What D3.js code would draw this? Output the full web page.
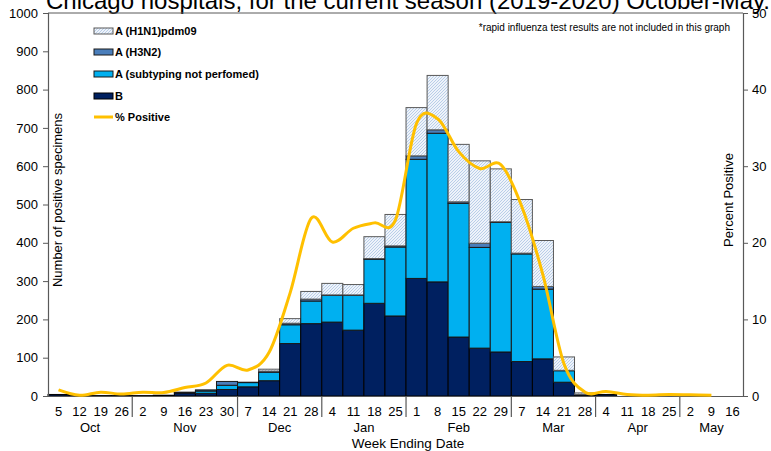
<!DOCTYPE html>
<html><head><meta charset="utf-8">
<script src="https://cdn.jsdelivr.net/npm/d3@7"></script>
<style>
html,body{margin:0;padding:0;background:#fff;}
svg{display:block;font-family:"Liberation Sans",Arial,sans-serif;}
</style></head>
<body><svg id="c" width="771" height="451"></svg>
<script>
const weekLabels = ["5","12","19","26","2","9","16","23","30","7","14","21","28","4","11","18","25","1","8","15","22","29","7","14","21","28","4","11","18","25","2","9","16"];
const monthNames = ["Oct","Nov","Dec","Jan","Feb","Mar","Apr","May"];
const monthStart = [0,4,9,13,17,22,26,30];
const monthEnd   = [4,9,13,17,22,26,30,33];
const valB      = [4,1,1,1,1,2,8,7,17,24,40,137,189,193,172,242,209,307,298,154,125,115,90,97,36,3,4,0,0,0,0,0,0];
const valAUnsub = [0,0,0,0,0,0,1,6,11,11,22,49,59,70,91,115,180,311,388,349,263,338,281,182,30,1,0,0,0,0,0,0,0];
const valH3N2   = [0,0,0,0,0,0,1,3,10,1,3,4,5,1,1,2,3,9,9,4,11,2,2,7,1,0,0,0,0,0,0,0,0];
const valH1N1   = [0,0,0,0,0,0,0,0,0,0,5,12,20,30,27,57,82,126,142,150,215,138,140,120,35,4,0,0,0,0,0,0,0];
const pctPos    = [0.8,0.1,0.5,0.25,0.5,0.45,1.1,1.7,4.0,3.4,5.7,13.5,23.2,20.1,21.9,22.6,23.0,35.6,36.2,31.9,29.7,30.2,24.7,15.8,4.2,0.5,0.6,0.2,0.1,0.2,0.15,0.1,null];
const leftTicks = [0,100,200,300,400,500,600,700,800,900,1000];
const rightTicks = [0,10,20,30,40,50];
const seriesNames = ["A (H1N1)pdm09","A (H3N2)","A (subtyping not perfomed)","B"];

const svg = d3.select("#c");
const L = 48, R = 743, T = 13, B = 396;
const x = d3.scaleBand().domain(d3.range(weekLabels.length)).range([L, R]).padding(0);
const yL = d3.scaleLinear().domain([0,1000]).range([B, T]);
const yR = d3.scaleLinear().domain([0,50]).range([B, T]);

const defs = svg.append("defs");
const pat = defs.append("pattern").attr("id","hatch").attr("patternUnits","userSpaceOnUse")
  .attr("width",3).attr("height",3);
pat.append("rect").attr("width",3).attr("height",3).attr("fill","#eef3fa");
pat.append("path").attr("d","M-1,1 l2,-2 M0,3 l3,-3 M2,4 l2,-2").attr("stroke","#b3c9e6").attr("stroke-width",0.9);

// title (clipped at top)
svg.append("text").attr("x",46).attr("y",9).attr("font-size",24).attr("fill","#000")
  .text("Chicago hospitals, for the current season (2019-2020) October-May.");

// stacked bars
const layers = [
  {vals: valB, fill: "#002060", stroke: "#000"},
  {vals: valAUnsub, fill: "#00b0f0", stroke: "#1a1a1a"},
  {vals: valH3N2, fill: "#4a7ebb", stroke: "#1a1a1a"},
  {vals: valH1N1, fill: "url(#hatch)", stroke: "#595959"}
];
const gBars = svg.append("g");
weekLabels.forEach((w,i) => {
  let base = 0;
  layers.forEach(l => {
    const v = l.vals[i];
    if (v > 0) {
      gBars.append("rect")
        .attr("x", x(i)).attr("width", x.bandwidth())
        .attr("y", yL(base+v)).attr("height", yL(base)-yL(base+v))
        .attr("fill", l.fill).attr("stroke", l.stroke).attr("stroke-width", 1);
    }
    base += v;
  });
});

// plot frame
svg.append("line").attr("x1",L).attr("x2",R).attr("y1",T).attr("y2",T).attr("stroke","#595959");
// left axis
const axL = svg.append("g").attr("transform",`translate(${L},0)`)
  .call(d3.axisLeft(yL).tickValues(leftTicks).tickSize(5).tickPadding(5).tickFormat(d3.format("d")));
// right axis
const axR = svg.append("g").attr("transform",`translate(${R},0)`)
  .call(d3.axisRight(yR).tickValues(rightTicks).tickSize(5).tickPadding(4).tickFormat(d3.format("d")));
[axL, axR].forEach(a => {
  a.select(".domain").attr("stroke","#595959").attr("stroke-width",1.2);
  a.selectAll(".tick line").attr("stroke","#595959");
  a.selectAll(".tick text").attr("font-size",13).attr("fill","#000").attr("font-family","Liberation Sans, Arial, sans-serif");
});
// x axis
const axX = svg.append("g").attr("transform",`translate(0,${B})`)
  .call(d3.axisBottom(x).tickSize(0).tickPadding(0).tickFormat(i => weekLabels[i]));
axX.select(".domain").attr("stroke","#595959").attr("stroke-width",1.2);
axX.selectAll(".tick text").attr("font-size",13).attr("fill","#000")
  .attr("font-family","Liberation Sans, Arial, sans-serif").attr("dy",null).attr("y",20);

// month separators and labels
monthStart.forEach((s,k) => {
  if (k > 0) {
    svg.append("line").attr("x1",x(s)).attr("x2",x(s)).attr("y1",B).attr("y2",B+21)
      .attr("stroke","#595959").attr("stroke-width",1.2);
  }
  const cx = (x(s) + x(monthEnd[k]-1) + x.bandwidth())/2;
  svg.append("text").attr("x",cx).attr("y",432).attr("text-anchor","middle")
    .attr("font-size",13).text(monthNames[k]);
});

// percent positive line
const line = d3.line().defined(d => d != null)
  .x((d,i) => x(i) + x.bandwidth()/2).y(d => yR(d)).curve(d3.curveCardinal.tension(0));
svg.append("path").datum(pctPos).attr("d",line).attr("fill","none")
  .attr("stroke","#ffc000").attr("stroke-width",3).attr("stroke-linejoin","round");

// axis titles
svg.append("text").attr("transform","translate(61.5,200) rotate(-90)").attr("text-anchor","middle")
  .attr("font-size",13).text("Number of positive specimens");
svg.append("text").attr("transform","translate(733,200) rotate(-90)").attr("text-anchor","middle")
  .attr("font-size",13).text("Percent Positive");
svg.append("text").attr("x",408).attr("y",448).attr("text-anchor","middle")
  .attr("font-size",13.5).text("Week Ending Date");

// note
svg.append("text").attr("x",730).attr("y",31).attr("text-anchor","end")
  .attr("font-size",10).text("*rapid influenza test results are not included in this graph");

// legend
const legFills = ["url(#hatch)","#4a7ebb","#00b0f0","#002060"];
const legStrokes = ["#595959","#1a1a1a","#1a1a1a","#000"];
const legY = [31,52,74,96];
const gLeg = svg.append("g");
seriesNames.forEach((n,k) => {
  gLeg.append("rect").attr("x",94).attr("y",legY[k]-3).attr("width",19).attr("height",6)
    .attr("fill",legFills[k]).attr("stroke",legStrokes[k]);
  gLeg.append("text").attr("x",115).attr("y",legY[k]+4).attr("font-size",11).attr("font-weight","bold").text(n);
});
gLeg.append("line").attr("x1",94).attr("x2",113).attr("y1",117).attr("y2",117).attr("stroke","#ffc000").attr("stroke-width",3);
gLeg.append("text").attr("x",115).attr("y",121).attr("font-size",11).attr("font-weight","bold").text("% Positive");
</script></body></html>
